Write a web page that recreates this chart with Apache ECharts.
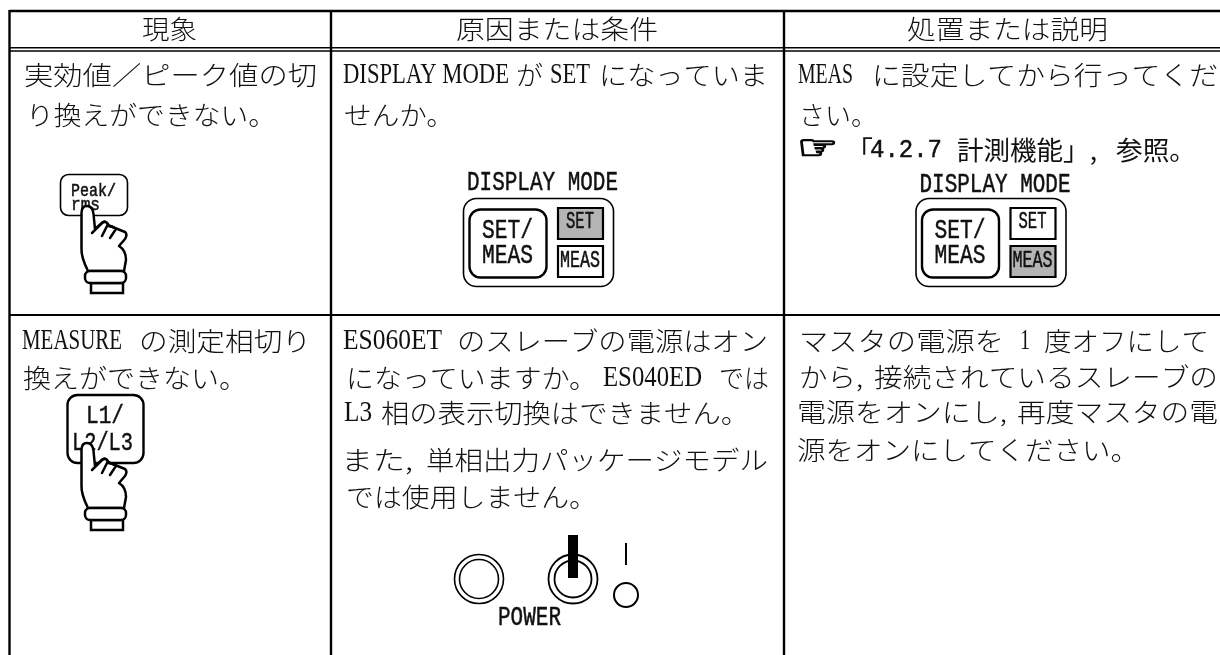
<!DOCTYPE html>
<html lang="ja"><head><meta charset="utf-8">
<style>html,body{margin:0;padding:0;background:#fff}#c{width:1220px;height:655px}</style>
<script src="https://cdn.jsdelivr.net/npm/echarts@6/dist/echarts.min.js"></script>
</head><body><div id="c"></div>
<script>
// ---- text content ----
const headerLabels = ['現象', '原因または条件', '処置または説明'];
const symptomRuns = ['実効値／ピーク値の切', 'り換えができない。', 'MEASURE', 'の測定相切り', '換えができない。'];
const causeRuns = ['DISPLAY MODE', 'が', 'SET', 'になっていま', 'せんか。',
  'ES060ET', 'のスレーブの電源はオン', 'になっていますか。', 'ES040ED', 'では',
  'L3', '相の表示切換はできません。', 'また,', '単相出力パッケージモデル', 'では使用しません。'];
const remedyRuns = ['MEAS', 'に設定してから行ってくだ', 'さい。',
  'マスタの電源を', '1', '度オフにして', 'から,', '接続されているスレーブの',
  '電源をオンにし,', '再度マスタの電', '源をオンにしてください。'];
const referenceRuns = ['☞', '「', '4.2.7', '計測機能」,', '参照。'];
const keyLabels = ['Peak/', 'rms', 'L1/', 'L2/L3'];
const panelLabels = ['DISPLAY MODE', 'SET/', 'MEAS', 'SET', 'MEAS'];
const powerLabel = 'POWER';

// ---- layout: [left, right, middle] per run, in reading order ----
const headerPos = [[142,197,29],[456,658,29],[907,1108,29]];
const symptomPos = [[24,317,75],[26,276,115],[22,122,341],[139,311,341],[23,247,378]];
const causePos = [[343,509,75],[516,543,75],[550,590,75],[599,768,75],[344,454,115],
  [343,442,341],[457,768,341],[346,597,378],[603,702,378],[719,769,378],
  [344,372,413],[381,749,413],[341,413,460],[426,768,460],[346,597,497]];
const remedyPos = [[798,853,75],[872,1218,75],[799,877,115],
  [799,1004,341],[1020,1030,341],[1044,1209,341],[799,863,377],[874,1218,377],
  [797,1007,412],[1017,1218,412],[797,1139,450]];
const referencePos = [[797,838,150],[845,873,150],[870,942,150],[957,1097,150],[1116,1196,150]];
const keyPos = [[71,116,191],[71,100,205],[86,124,416],[72,133,443]];
const panelPos = [[467,618,183],[482,533,231],[482,533,256],[566,594,222],[560,600,261]];

const sansCJK = '"Noto Sans CJK JP"';
const halfGothic = '"Liberation Mono"';
const gothicInk = { stroke: '#111', lineWidth: 0.5 };
const ctx = document.createElement('canvas').getContext('2d');
function run(text, pos, family, size, weight, z, extra) {
  weight = weight || 'normal';
  ctx.font = weight + ' ' + size + 'px ' + family;
  const w = ctx.measureText(text).width;
  const ink = family === halfGothic ? gothicInk : {};
  return { type: 'text', x: pos[0], y: pos[2], scaleX: (pos[1] - pos[0]) / w, originX: 0, z: z || 5,
    style: Object.assign({ text: text, fontFamily: family, fontSize: size, fontWeight: weight, fill: '#111', align: 'left', verticalAlign: 'middle' }, ink, extra || {}) };
}
const isLatin = t => /^[\x20-\x7e]+$/.test(t);
function body(texts, poses) {
  return texts.map((t, i) => isLatin(t)
    ? run(t, poses[i], '"Liberation Serif"', 30)
    : run(t, poses[i], sansCJK, 26, 300));
}
const line = (x1, y1, x2, y2, w) => ({ type: 'line', shape: { x1, y1, x2, y2 }, z: 1, style: { stroke: '#000', lineWidth: w } });
const rrect = (x, y, width, height, r, w, fill, z) => ({ type: 'rect', shape: { x, y, width, height, r }, z: z || 2, style: { stroke: '#000', lineWidth: w, fill: fill || '#fff' } });
const circ = (cx, cy, r, w) => ({ type: 'circle', shape: { cx, cy, r }, z: 2, style: { stroke: '#000', lineWidth: w, fill: '#fff' } });

const handOutline = 'M88 271C84 263 81 256 81.5 248L81.5 213C81.5 208 84 206 87 206C91 206 93 209 93.5 214L95 229L103 222C105 221 107 222 108 225L115 228L125 232C127 234 127 236 125 239L119 246C124 249 126 254 126 260L124 271Z';
const handFolds = 'M92 233L102 223C104 221 107 222 108 224L102 236M108 226C111 226 114 227 116 229L110 238';
echarts.graphic.registerShape('handOutline', echarts.graphic.extendPath(handOutline, {}));
echarts.graphic.registerShape('handFolds', echarts.graphic.extendPath(handFolds, {}));
const hand = (dy) => [
  { type: 'handOutline', y: dy, z: 4, style: { fill: '#fff', stroke: '#000', lineWidth: 2.5, lineJoin: 'round' } },
  { type: 'handFolds', y: dy, z: 4, style: { fill: 'none', stroke: '#000', lineWidth: 2.5, lineCap: 'round' } },
  { type: 'rect', y: dy, z: 4, shape: { x: 91, y: 283, width: 32, height: 10 }, style: { fill: '#fff', stroke: '#000', lineWidth: 2.5 } },
  { type: 'rect', y: dy, z: 4, shape: { x: 85, y: 271, width: 41, height: 12, r: 5 }, style: { fill: '#fff', stroke: '#000', lineWidth: 2.5 } }
];
function panel(dx, dy, setFill, measFill) {
  const shift = p => [p[0] + dx, p[1] + dx, p[2]];
  return [
    run(panelLabels[0], [panelPos[0][0]+dx, panelPos[0][1]+dx, panelPos[0][2]+dy], halfGothic, 27),
    rrect(463.5+dx, 198.5, 150, 88, 13, 1.6),
    rrect(469.5+dx, 209.5, 77, 68, 11, 2.4),
    rrect(558+dx, 208, 45, 31, 0, 2.2, setFill),
    rrect(558+dx, 246, 45, 31, 0, 2.2, measFill),
    run(panelLabels[1], shift(panelPos[1]), halfGothic, 28),
    run(panelLabels[2], shift(panelPos[2]), halfGothic, 28),
    run(panelLabels[3], shift(panelPos[3]), halfGothic, 23),
    run(panelLabels[4], shift(panelPos[4]), halfGothic, 23)
  ];
}
const gridLines = [
  line(9.5, 11, 1220, 11, 2.4), line(9.5, 47.8, 1220, 47.8, 1.6), line(9.5, 51, 1220, 51, 1.6), line(9.5, 315, 1220, 315, 2.2),
  line(9.5, 10, 9.5, 655, 2.4), line(331, 10, 331, 655, 2.4), line(784, 10, 784, 655, 2.4)
];
const powerMarks = [
  circ(479, 579, 24.5, 1.6), circ(479, 579, 19.5, 1.6),
  circ(573, 579, 24.5, 1.8), circ(573, 579, 18.5, 1.8),
  { type: 'rect', z: 3, shape: { x: 568, y: 535, width: 10, height: 43 }, style: { fill: '#000' } },
  line(626, 543, 626, 565, 2), circ(626, 595, 12, 2),
  run(powerLabel, [498, 561, 618], halfGothic, 27)
];
const option = {
  animation: false,
  backgroundColor: '#fff',
  graphic: { elements: [].concat(
    gridLines,
    headerLabels.map((t, i) => run(t, headerPos[i], sansCJK, 26, 300)),
    body(symptomRuns, symptomPos),
    body(causeRuns, causePos),
    body(remedyRuns, remedyPos),
    [run(referenceRuns[0], referencePos[0], '"DejaVu Sans"', 34, 'bold', 5, { stroke: '#000', lineWidth: 1.4 })],
    referenceRuns.slice(1).map((t, i) => run(t, referencePos[i + 1], isLatin(t) ? halfGothic : sansCJK, 26)),
    rrect(60.5, 174.5, 67, 41, 8, 1.6),
    keyLabels.slice(0, 2).map((t, i) => run(t, keyPos[i], halfGothic, 19, 'normal', 3)),
    hand(0),
    rrect(67.5, 395, 76, 68, 10, 2.4),
    keyLabels.slice(2).map((t, i) => run(t, keyPos[i + 2], halfGothic, 26, 'normal', 3)),
    hand(237),
    panel(0, 0, '#b4b4b4', '#fff'),
    panel(452.5, 2, '#fff', '#b4b4b4'),
    powerMarks
  ) }
};
echarts.init(document.getElementById('c'), null, { renderer: 'canvas' }).setOption(option);
</script></body></html>
